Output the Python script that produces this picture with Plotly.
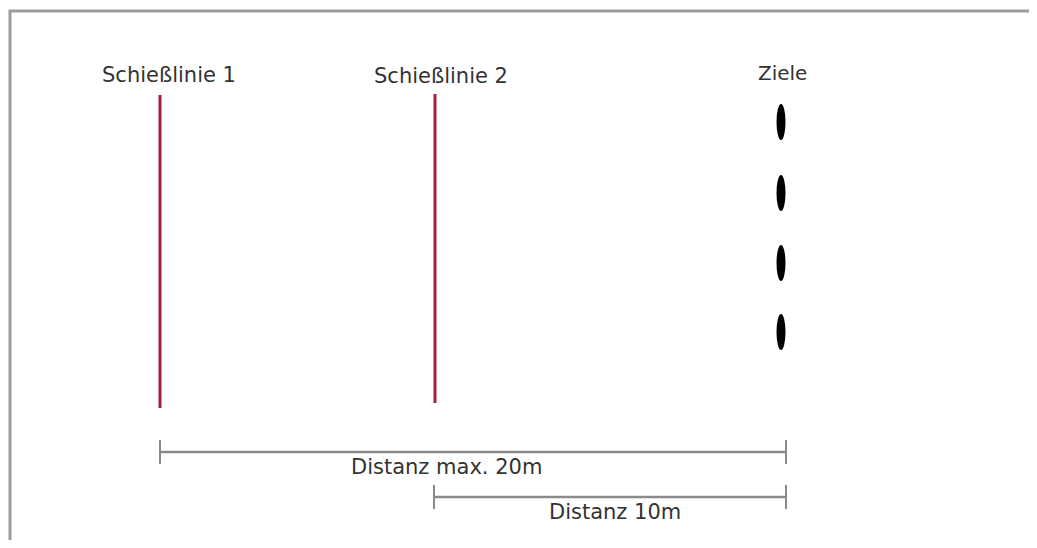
import plotly.graph_objects as go

# Diagram data (horizontal positions in diagram units, vertical extents)
line_labels = ["Schießlinie 1", "Schießlinie 2"]
line_x = [160, 435]
line_top = [95, 94]
line_bottom = [408, 403]
label_x = [168.5, 441, 782.5]
label_y = [75, 76, 73]
label_text = ["Schießlinie 1", "Schießlinie 2", "Ziele"]
label_size = [21, 21, 20]

target_x = [781, 781, 781, 781]
target_y = [122, 193, 263, 332]

dim_text = ["Distanz max. 20m", "Distanz 10m"]
dim_start = [160, 434]
dim_end = [786, 786]
dim_y = [452, 497]
dim_label_x = [446, 614.5]
dim_label_y = [467, 512]

fig = go.Figure()

# shooting lines
for x, t, b, name in zip(line_x, line_top, line_bottom, line_labels):
    fig.add_trace(go.Scatter(x=[x, x], y=[t, b], mode="lines",
                             line=dict(color="#a3203c", width=3), name=name,
                             hoverinfo="skip", showlegend=False))

# targets (ellipses)
for tx, ty in zip(target_x, target_y):
    fig.add_shape(type="circle", xref="x", yref="y",
                  x0=tx - 4.5, x1=tx + 4.5, y0=ty - 18, y1=ty + 18,
                  fillcolor="black", line=dict(color="black", width=0))

# dimension lines
for x0, x1, y in zip(dim_start, dim_end, dim_y):
    fig.add_trace(go.Scatter(x=[x0, x1], y=[y, y], mode="lines",
                             line=dict(color="#8a8a8a", width=2.5),
                             hoverinfo="skip", showlegend=False))
    for xe in (x0, x1):
        fig.add_trace(go.Scatter(x=[xe, xe], y=[y - 12, y + 12], mode="lines",
                                 line=dict(color="#8a8a8a", width=2),
                                 hoverinfo="skip", showlegend=False))

# labels
for x, y, t, s in zip(label_x, label_y, label_text, label_size):
    fig.add_annotation(x=x, y=y, text=t, showarrow=False, xref="x", yref="y",
                       font=dict(family="DejaVu Sans", size=s, color="#333333"))
for x, y, t in zip(dim_label_x, dim_label_y, dim_text):
    fig.add_annotation(x=x, y=y, text=t, showarrow=False, xref="x", yref="y",
                       font=dict(family="DejaVu Sans", size=21, color="#333333"))

# frame (top and left edges visible in the picture)
fig.add_shape(type="path", xref="x", yref="y",
              path="M 1200 11 L 10 11 L 10 700",
              line=dict(color="#9c9c9c", width=3))

# the page body has an 8px margin, so the axes start at 8
fig.update_xaxes(range=[8, 1037], visible=False, fixedrange=True)
fig.update_yaxes(range=[540, 8], visible=False, fixedrange=True)
fig.update_layout(width=1029, height=532, margin=dict(l=0, r=0, t=0, b=0),
                  paper_bgcolor="white", plot_bgcolor="white", showlegend=False)

fig.write_html("out.html")
